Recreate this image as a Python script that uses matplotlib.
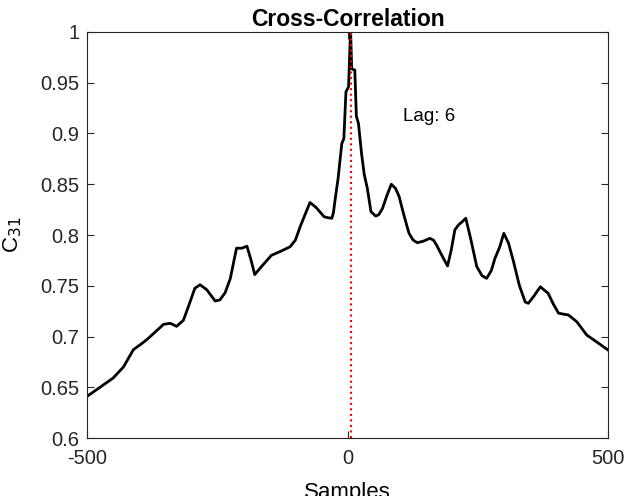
import numpy as np
import matplotlib.pyplot as plt

plt.rcParams['font.family'] = ['Liberation Sans', 'DejaVu Sans']

# Valores (lag en muestras, correlación)
lags = [-500, -475, -450, -430, -411, -395, -385, -370, -353, -340, -328, -315,
        -305, -293, -283, -270, -254, -245, -235, -225, -213, -203, -193, -185,
        -178, -165, -146, -128, -110, -100, -91, -80, -72, -60, -45, -37, -30,
        -27, -24, -18, -11, -7, -3, 2, 5, 6, 8, 11, 14, 17, 21, 24, 27, 32, 38,
        45, 54, 60, 67, 75, 84, 92, 99, 108, 118, 126, 134, 146, 158, 165, 171,
        182, 192, 199, 206, 213, 220, 227, 237, 248, 258, 267, 276, 283, 292,
        300, 309, 318, 330, 341, 347, 358, 370, 385, 395, 405, 415, 424, 440,
        459, 480, 500]
c31 = [0.641, 0.650, 0.659, 0.670, 0.687, 0.693, 0.697, 0.704, 0.712, 0.713,
       0.710, 0.716, 0.730, 0.7475, 0.751, 0.746, 0.735, 0.736, 0.743, 0.757,
       0.787, 0.787, 0.789, 0.775, 0.761, 0.769, 0.780, 0.784, 0.7885, 0.795,
       0.808, 0.822, 0.832, 0.827, 0.818, 0.817, 0.8165, 0.822, 0.834, 0.856,
       0.890, 0.895, 0.941, 0.946, 0.990, 1.000, 0.964, 0.963, 0.9626, 0.917,
       0.910, 0.895, 0.880, 0.860, 0.846, 0.823, 0.8187, 0.820, 0.826, 0.838,
       0.850, 0.846, 0.838, 0.820, 0.8017, 0.795, 0.7924, 0.794, 0.7967, 0.795,
       0.790, 0.779, 0.7695, 0.785, 0.805, 0.810, 0.813, 0.8165, 0.795, 0.769,
       0.760, 0.7573, 0.765, 0.777, 0.788, 0.8017, 0.792, 0.775, 0.750, 0.734,
       0.7327, 0.740, 0.749, 0.7426, 0.732, 0.723, 0.722, 0.7212, 0.7146,
       0.7015, 0.694, 0.6867]
lag_max = 6

fig = plt.figure(figsize=(6.24, 4.96), dpi=100)
ax = fig.add_axes([0.1394, 0.1169, 0.835, 0.8186])

ax.plot(lags, c31, color='black', linewidth=2, solid_joinstyle='round')
ax.axvline(x=lag_max, color='red', linestyle=':', linewidth=1.5)
ax.text(106, 0.9166, 'Lag: %d' % lag_max, fontsize=13.5, va='center')

ax.set_xlim(-500, 500)
ax.set_ylim(0.6, 1)
ax.set_xticks([-500, 0, 500])
ax.set_xticklabels(['-500', '0', '500'])
ax.set_yticks(np.arange(0.6, 1.001, 0.05))
ax.set_yticklabels(['0.6', '0.65', '0.7', '0.75', '0.8', '0.85', '0.9', '0.95', '1'])
ax.tick_params(direction='in', top=True, right=True, labelsize=14.5, length=5,
               color='#262626', labelcolor='#262626')
ax.tick_params(axis='y', pad=5.5)
ax.tick_params(axis='x', pad=8)
for s in ax.spines.values():
    s.set_color('#262626')
    s.set_linewidth(0.8)

ax.set_title('Cross-Correlation', fontsize=16.5, fontweight='bold', pad=4)
ax.set_xlabel('Samples', fontsize=16, labelpad=10)
ax.set_ylabel('C$_{31}$', fontsize=16, labelpad=12)

fig.savefig('out.png', dpi=100)
